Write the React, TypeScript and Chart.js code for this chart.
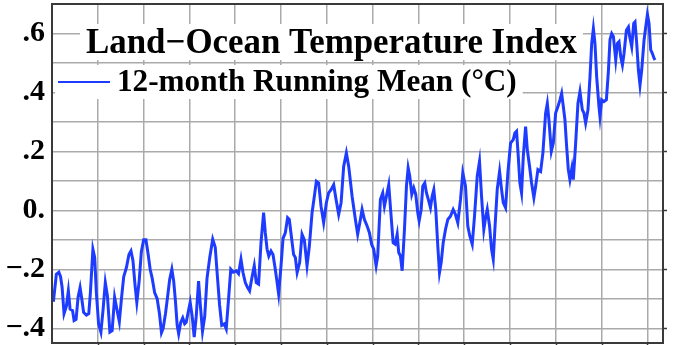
import React, { useEffect, useRef } from 'react';
import { Chart, registerables } from 'chart.js';

Chart.register(...registerables);

// Time (decimal year) of each 12-month running-mean sample
const years = [
  1880.30, 1880.95, 1881.50, 1881.87, 1882.20, 1882.63, 1883.14, 1883.57, 1883.95, 1884.49,
  1884.82, 1885.26, 1885.69, 1886.13, 1886.50, 1886.90, 1887.51, 1888.03, 1888.38, 1888.93,
  1889.32, 1889.69, 1890.17, 1890.68, 1891.16, 1891.64, 1892.10, 1892.64, 1893.13, 1893.67,
  1894.22, 1894.70, 1895.16, 1895.66, 1896.25, 1896.80, 1897.24, 1897.67, 1898.11, 1898.52,
  1899.03, 1899.51, 1900.01, 1900.51, 1901.00, 1901.43, 1901.87, 1902.42, 1902.96, 1903.46,
  1903.90, 1904.27, 1904.78, 1905.26, 1905.69, 1906.17, 1906.57, 1906.96, 1907.33, 1907.66,
  1908.10, 1908.54, 1908.97, 1909.30, 1909.74, 1910.17, 1910.61, 1911.05, 1911.49, 1912.00,
  1912.43, 1912.86, 1913.34, 1913.85, 1914.44, 1915.09, 1915.64, 1916.14, 1916.58, 1917.06,
  1917.61, 1918.04, 1918.55, 1919.03, 1919.57, 1920.23, 1920.73, 1921.26, 1921.69, 1922.20,
  1922.70, 1923.14, 1923.66, 1924.16, 1924.60, 1925.10, 1925.63, 1926.20, 1926.57, 1926.96,
  1927.33, 1927.81, 1928.25, 1928.75, 1929.15, 1929.48, 1930.00, 1930.44, 1930.94, 1931.44,
  1931.81, 1932.25, 1932.75, 1933.13, 1933.52, 1934.07, 1934.59, 1935.09, 1935.68, 1936.19,
  1936.78, 1937.28, 1937.72, 1938.22, 1938.74, 1939.31, 1939.90, 1940.40, 1940.93, 1941.50,
  1942.02, 1942.59, 1943.12, 1943.68, 1944.27, 1944.78, 1945.52, 1946.24, 1946.74, 1947.33,
  1947.70, 1948.21, 1948.80, 1949.30, 1949.78, 1950.24, 1950.77, 1951.11, 1951.70, 1952.21,
  1952.58, 1953.02, 1953.52, 1954.04, 1954.48, 1954.92, 1955.36, 1955.70, 1956.08, 1956.45,
  1956.95, 1957.39, 1957.76, 1958.11, 1958.55, 1958.98, 1959.42, 1959.86, 1960.16, 1960.60,
  1960.95, 1961.39, 1961.76, 1962.26, 1962.63, 1963.00, 1963.36, 1963.79, 1964.23, 1964.60,
  1964.97, 1965.41, 1965.91, 1966.42, 1967.00, 1967.59, 1968.09, 1968.60, 1969.19, 1969.69,
  1970.28, 1970.78, 1971.22, 1971.75, 1972.25, 1972.84, 1973.34, 1973.78, 1974.28, 1974.66,
  1975.03, 1975.53, 1975.97, 1976.34, 1976.69, 1977.21, 1977.72, 1978.15, 1978.52, 1979.03,
  1979.53, 1980.12, 1980.71, 1981.06, 1981.43, 1981.80, 1982.15, 1982.52, 1982.90, 1983.40,
  1983.77, 1984.27, 1984.71, 1985.21, 1985.58, 1986.09, 1986.68, 1987.18, 1987.77, 1988.14,
  1988.49, 1989.02, 1989.45, 1989.96, 1990.46, 1990.90, 1991.27, 1991.64, 1991.99, 1992.36,
  1992.73, 1993.08, 1993.52, 1993.82, 1994.33, 1994.83, 1995.27, 1995.79, 1996.14, 1996.51,
  1997.02, 1997.46, 1997.83, 1998.20, 1998.55, 1998.92, 1999.42, 1999.64, 2000.01, 2000.51,
  2001.04, 2001.47, 2001.83, 2002.20, 2002.57, 2003.08, 2003.45, 2003.80, 2004.17, 2004.54,
  2004.89, 2005.41, 2005.85, 2006.13, 2006.57, 2007.01, 2007.29, 2007.66, 2008.03, 2008.38,
  2008.75, 2009.26, 2009.63, 2010.00, 2010.35, 2010.72, 2011.09, 2011.44, 2011.66,
];

// Temperature anomaly (°C), 12-month running mean
const anomalies = [
  -0.310, -0.217, -0.210, -0.225, -0.260, -0.350, -0.325, -0.273, -0.335, -0.340,
  -0.374, -0.370, -0.295, -0.262, -0.300, -0.346, -0.355, -0.350, -0.280, -0.132,
  -0.160, -0.280, -0.385, -0.413, -0.335, -0.245, -0.290, -0.413, -0.408, -0.295,
  -0.340, -0.378, -0.300, -0.225, -0.194, -0.150, -0.138, -0.170, -0.250, -0.312,
  -0.240, -0.140, -0.100, -0.100, -0.150, -0.200, -0.230, -0.280, -0.300, -0.350,
  -0.415, -0.400, -0.350, -0.290, -0.235, -0.200, -0.240, -0.310, -0.390, -0.419,
  -0.380, -0.365, -0.385, -0.380, -0.345, -0.312, -0.360, -0.430, -0.360, -0.240,
  -0.330, -0.410, -0.360, -0.230, -0.160, -0.098, -0.125, -0.230, -0.320, -0.390,
  -0.385, -0.402, -0.300, -0.200, -0.210, -0.205, -0.215, -0.166, -0.210, -0.245,
  -0.262, -0.273, -0.228, -0.188, -0.245, -0.250, -0.110, -0.008, -0.076, -0.132,
  -0.155, -0.138, -0.150, -0.200, -0.245, -0.284, -0.188, -0.095, -0.076, -0.025,
  -0.031, -0.087, -0.150, -0.160, -0.211, -0.177, -0.081, -0.100, -0.188, -0.121,
  -0.008, 0.048, 0.099, 0.093, 0.014, -0.042, 0.026, 0.059, 0.070, 0.087,
  0.037, -0.014, 0.026, 0.149, 0.195, 0.149, 0.048, -0.031, -0.081, -0.031,
  0.003, -0.031, -0.053, -0.076, -0.115, -0.132, -0.188, -0.155, 0.037, 0.059,
  0.014, 0.048, 0.087, -0.020, -0.110, -0.115, -0.081, -0.143, -0.155, -0.205,
  -0.065, 0.082, 0.144, 0.116, 0.054, 0.076, 0.054, -0.008, -0.036, 0.003,
  0.082, 0.093, 0.059, 0.031, 0.009, 0.048, 0.070, 0.003, -0.121, -0.211,
  -0.177, -0.110, -0.065, -0.031, -0.020, 0.003, -0.014, -0.042, 0.037, 0.127,
  0.082, -0.053, -0.087, -0.115, -0.020, 0.116, 0.166, 0.048, -0.065, -0.025,
  0.003, -0.053, -0.132, -0.166, -0.065, 0.071, 0.132, 0.071, 0.026, 0.009,
  0.127, 0.228, 0.240, 0.262, 0.268, 0.183, 0.093, 0.059, 0.183, 0.284,
  0.206, 0.149, 0.093, 0.043, 0.080, 0.138, 0.132, 0.195, 0.330, 0.363,
  0.307, 0.200, 0.228, 0.330, 0.352, 0.375, 0.397, 0.352, 0.307, 0.217,
  0.138, 0.104, 0.144, 0.104, 0.228, 0.363, 0.403, 0.341, 0.330, 0.296,
  0.341, 0.453, 0.566, 0.617, 0.566, 0.453, 0.352, 0.318, 0.375, 0.369,
  0.375, 0.470, 0.580, 0.600, 0.590, 0.510, 0.566, 0.572, 0.521, 0.493,
  0.532, 0.611, 0.622, 0.589, 0.555, 0.634, 0.639, 0.566, 0.476, 0.425,
  0.476, 0.577, 0.622, 0.665, 0.634, 0.544, 0.532, 0.516, 0.510,
];

const yTickValues = [-0.4, -0.2, 0, 0.2, 0.4, 0.6];
const yTickLabels = ['−.4', '−.2', '0.', '.2', '.4', '.6'];
const titleText = 'Land−Ocean Temperature Index';
const seriesLabel = '12-month Running Mean (°C)';

const xMin = 1880;
const xMax = 2013.4;
const yMin = -0.45;
const yMax = 0.7;

const LINE_BLUE = '#1e3cff';
const GRID = '#aaaaaa';
const FRAME = '#3a3a3a';
const SERIF = '"Liberation Serif", "Times New Roman", serif';

export default function App() {
  const ref = useRef<HTMLCanvasElement | null>(null);

  useEffect(() => {
    document.body.style.margin = '0';
    document.body.style.overflow = 'hidden';
    const canvas = ref.current;
    if (!canvas) return;

    const overlay = {
      id: 'overlay',
      afterDraw(chart: any) {
        const { ctx, chartArea } = chart;
        const { left, right, top, bottom } = chartArea;
        const yS = chart.scales.y;
        const xS = chart.scales.x;
        ctx.save();

        // outer ticks on right and bottom
        ctx.strokeStyle = FRAME;
        ctx.lineWidth = 1.5;
        ctx.beginPath();
        yTickValues.forEach((v) => {
          const py = Math.round(yS.getPixelForValue(v)) + 0.5;
          ctx.moveTo(right, py);
          ctx.lineTo(right + 4, py);
        });
        for (let yr = xMin + 10; yr < xMax; yr += 10) {
          const px = Math.round(xS.getPixelForValue(yr)) + 0.5;
          ctx.moveTo(px, bottom);
          ctx.lineTo(px, bottom + 4);
        }
        ctx.stroke();

        // frame
        ctx.lineWidth = 2;
        ctx.strokeStyle = FRAME;
        ctx.strokeRect(left, top, right - left, bottom - top);

        // title box + text
        ctx.font = `bold 34.9px ${SERIF}`;
        ctx.textBaseline = 'alphabetic';
        ctx.textAlign = 'left';
        const tx = 86;
        const ty = 53;
        const tw = ctx.measureText(titleText).width;
        ctx.fillStyle = '#ffffff';
        ctx.fillRect(tx - 6, 24, tw + 12, 36);
        ctx.fillStyle = '#000000';
        ctx.fillText(titleText, tx, ty);

        // legend box + sample + text
        ctx.font = `bold 31.2px ${SERIF}`;
        const lx = 117;
        const ly = 91;
        const lw = ctx.measureText(seriesLabel).width;
        ctx.fillStyle = '#ffffff';
        ctx.fillRect(55, 65, lx + lw + 6 - 55, 34);
        ctx.strokeStyle = LINE_BLUE;
        ctx.lineWidth = 2;
        ctx.beginPath();
        ctx.moveTo(58, 82);
        ctx.lineTo(110, 82);
        ctx.stroke();
        ctx.fillStyle = '#000000';
        ctx.fillText(seriesLabel, lx, ly);

        ctx.restore();
      },
    };

    const chart = new Chart(canvas, {
      type: 'line',
      data: {
        datasets: [
          {
            label: seriesLabel,
            data: years.map((x, i) => ({ x, y: anomalies[i] })),
            borderColor: LINE_BLUE,
            backgroundColor: LINE_BLUE,
            borderWidth: 3,
            pointRadius: 0,
            tension: 0,
            fill: false,
          },
        ],
      },
      options: {
        animation: false,
        responsive: false,
        devicePixelRatio: 1,
        layout: { autoPadding: false, padding: { top: 4, right: 12, left: 0, bottom: 0 } },
        plugins: {
          legend: { display: false },
          title: { display: false },
          tooltip: { enabled: false },
        },
        scales: {
          x: {
            type: 'linear',
            min: xMin,
            max: xMax,
            ticks: { display: false, stepSize: 10, includeBounds: false },
            grid: { color: GRID, lineWidth: 1.5, drawTicks: false },
            border: { display: false },
            afterFit: (s: any) => {
              s.height = 2;
              s.paddingLeft = 0;
              s.paddingRight = 0;
            },
          },
          y: {
            type: 'linear',
            min: yMin,
            max: yMax,
            ticks: {
              stepSize: 0.1,
              includeBounds: false,
              autoSkip: false,
              padding: 7,
              color: '#000000',
              font: { family: SERIF, size: 30, weight: 'bold' },
              callback: (value: any) => {
                const i = yTickValues.findIndex((t) => Math.abs(t - Number(value)) < 1e-6);
                return i >= 0 ? yTickLabels[i] : '';
              },
            },
            grid: { color: GRID, lineWidth: 1.5, drawTicks: false },
            border: { display: false },
            afterFit: (s: any) => {
              s.width = 52;
              s.paddingTop = 0;
              s.paddingBottom = 0;
            },
          },
        },
      },
      plugins: [overlay],
    });

    return () => chart.destroy();
  }, []);

  return (
    <div style={{ width: 675, height: 345 }}>
      <canvas ref={ref} width={675} height={345} style={{ display: 'block' }} />
    </div>
  );
}
